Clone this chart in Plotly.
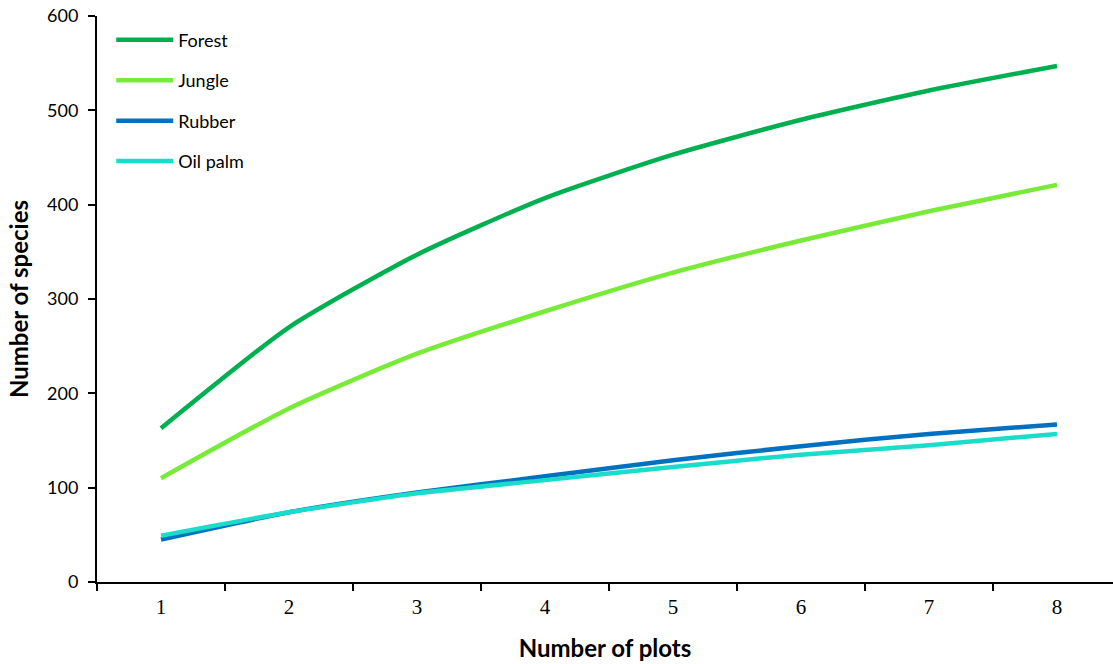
import plotly.graph_objects as go

plots = ["1", "2", "3", "4", "5", "6", "7", "8"]
forest = [163, 270, 347, 407, 453, 490, 521, 547]
jungle = [110, 184, 242, 287, 328, 362, 393, 421]
rubber = [45, 74, 95, 112, 129, 144, 157, 167]
oil_palm = [49, 74, 94, 108, 122, 135, 145, 157]

series = [
    ("Forest", forest, "#00B050"),
    ("Jungle", jungle, "#77EB37"),
    ("Rubber", rubber, "#0070C0"),
    ("Oil palm", oil_palm, "#1ADCCA"),
]

fig = go.Figure()
for name, vals, col in series:
    fig.add_trace(go.Scatter(
        x=plots, y=vals, name=name, mode="lines",
        line=dict(color=col, width=4.5, shape="spline", smoothing=0.6),
        legendgroup=name,
    ))

sans = "Lato, Open Sans, sans-serif"
fig.update_layout(
    width=1113, height=664,
    margin=dict(l=97, r=0, t=16, b=82),
    paper_bgcolor="white", plot_bgcolor="white",
    showlegend=True,
    legend=dict(
        x=0.014, y=0.99, xanchor="left", yanchor="top",
        font=dict(family=sans, size=18, color="#000"),
        bgcolor="rgba(0,0,0,0)", tracegroupgap=14, itemwidth=57,
    ),
    xaxis=dict(
        type="category", range=[-0.5, 7.4375],
        tickson="boundaries", ticks="outside", ticklen=7, tickwidth=1.5, tickcolor="#000",
        showline=True, linecolor="#000", linewidth=2, showgrid=False, zeroline=False,
        ticklabelstandoff=5,
        tickfont=dict(family="Liberation Serif, Times New Roman, serif", size=21, color="#000"),
        title=dict(text="<b>Number of plots</b>", font=dict(family=sans, size=24, color="#000"), standoff=22),
    ),
    yaxis=dict(
        range=[0, 600], tickvals=[0, 100, 200, 300, 400, 500, 600],
        ticks="outside", ticklen=7, tickwidth=1.5, tickcolor="#000",
        showline=True, linecolor="#000", linewidth=2, showgrid=False, zeroline=False,
        ticklabelstandoff=6,
        tickfont=dict(family=sans, size=18, color="#000"),
        title=dict(text="<b>Number of species</b>", font=dict(family=sans, size=24, color="#000"), standoff=12),
    ),
)

fig.write_html("out.html", config={"displayModeBar": False},
               post_script="document.body.style.margin='0';document.body.style.padding='0';")
